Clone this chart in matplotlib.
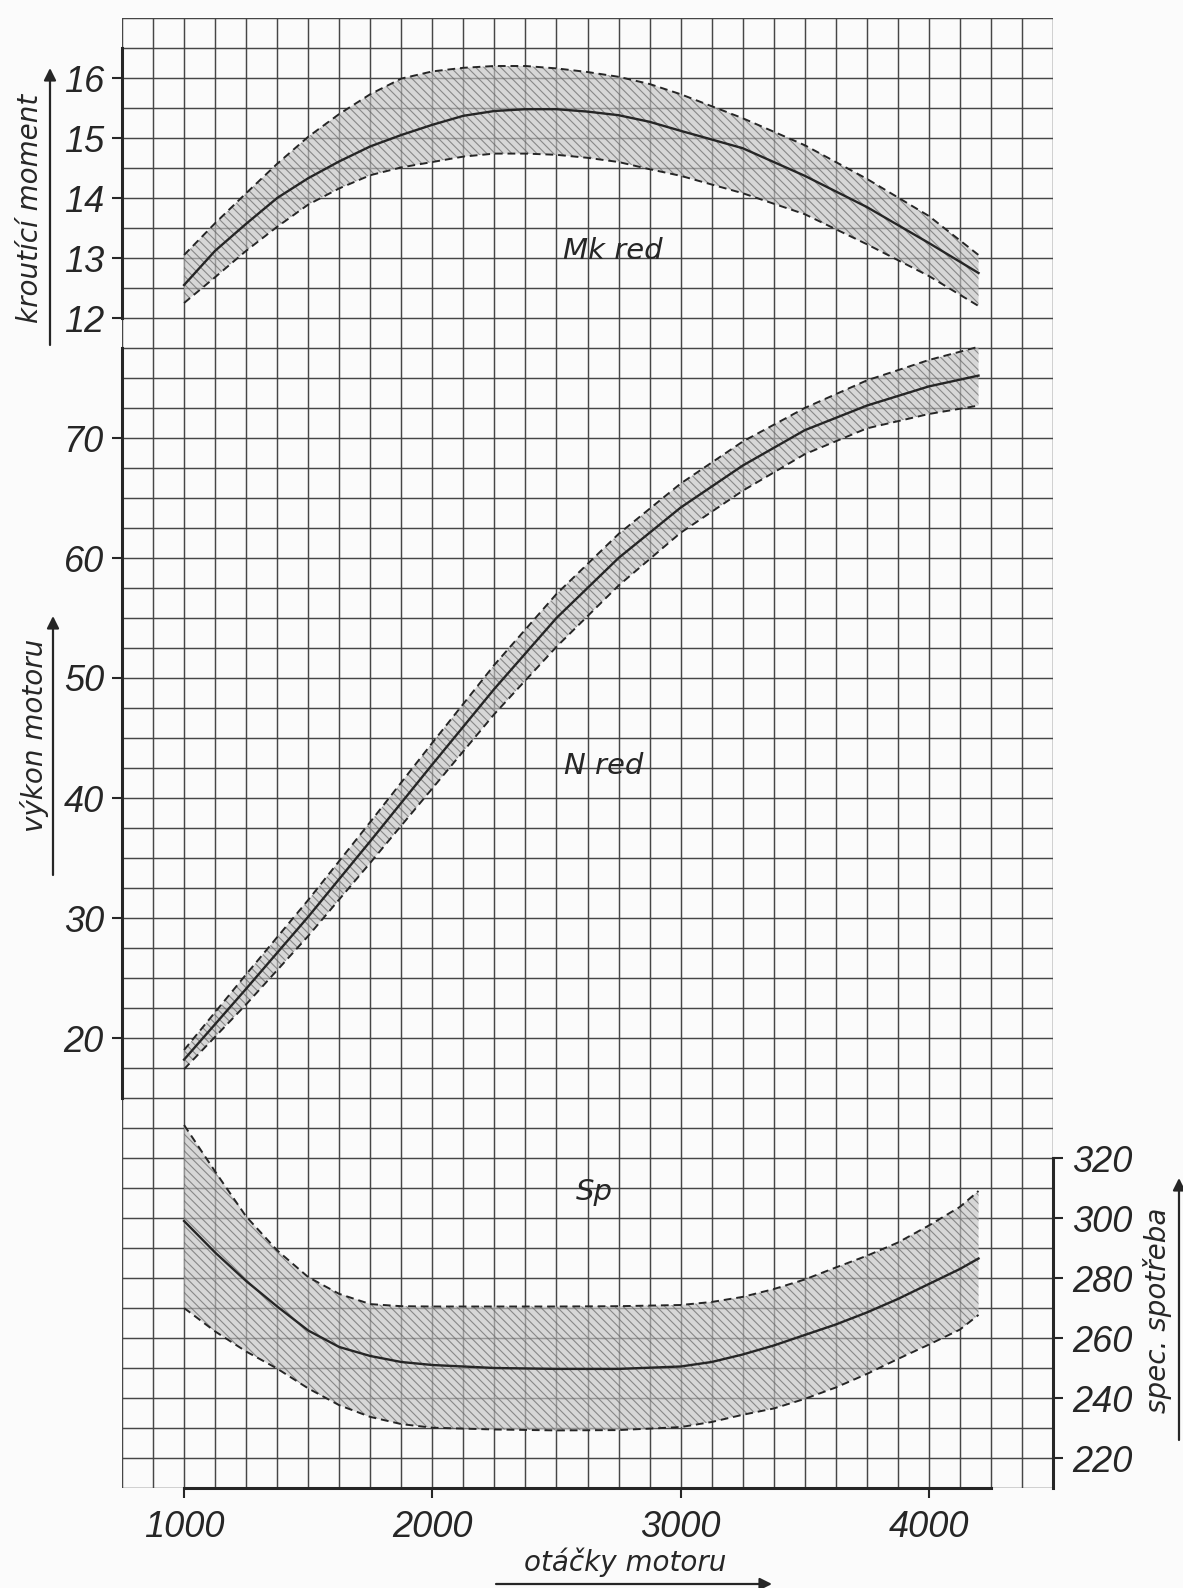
import numpy as np
import matplotlib
matplotlib.use("Agg")
import matplotlib.pyplot as plt

# --- data -------------------------------------------------------------------
rpm_mk = [1000, 1125, 1250, 1375, 1500, 1625, 1750, 1875, 2000, 2125, 2250,
          2375, 2500, 2625, 2750, 2875, 3000, 3250, 3500, 3750, 4000, 4200]
mk_mid = [12.55, 13.12, 13.57, 14.0, 14.33, 14.61, 14.86, 15.05, 15.22, 15.37, 15.45,
          15.48, 15.48, 15.44, 15.38, 15.27, 15.12, 14.83, 14.37, 13.85, 13.25, 12.75]
mk_hi = [13.05, 13.58, 14.08, 14.57, 15.02, 15.4, 15.73, 15.99, 16.11, 16.17, 16.2,
         16.2, 16.16, 16.1, 16.02, 15.9, 15.73, 15.33, 14.88, 14.32, 13.7, 13.05]
mk_lo = [12.25, 12.68, 13.12, 13.52, 13.89, 14.16, 14.38, 14.51, 14.6, 14.69, 14.74,
         14.74, 14.72, 14.67, 14.6, 14.48, 14.37, 14.08, 13.73, 13.23, 12.7, 12.2]

rpm_n = [1000, 1250, 1500, 1750, 2000, 2250, 2500, 2750, 3000, 3250, 3500, 3750, 4000, 4200]
n_mid = [18.2, 24.1, 30.1, 36.4, 42.8, 49.1, 55.0, 60.0, 64.2, 67.7, 70.65, 72.7, 74.3, 75.2]
n_hi = [19.0, 25.3, 31.5, 38.0, 44.6, 51.1, 57.0, 62.0, 66.2, 69.7, 72.5, 74.8, 76.5, 77.6]
n_lo = [17.4, 22.8, 28.5, 34.6, 40.8, 47.0, 52.6, 57.7, 62.1, 65.6, 68.65, 70.8, 72.0, 72.7]

rpm_sp = [1000, 1125, 1250, 1375, 1500, 1625, 1750, 1875, 2000, 2250, 2500, 2750,
          3000, 3125, 3250, 3375, 3500, 3625, 3750, 3875, 4000, 4125, 4200]
sp_mid = [299, 288.5, 279, 270.5, 262.5, 257, 254, 252, 251, 250, 249.7, 249.7,
          250.5, 252, 254.5, 257.5, 261, 264.5, 268.5, 273, 278, 283, 286.5]
sp_hi = [331, 315.5, 300.5, 289.2, 280.3, 274.7, 271.3, 270.6, 270.5, 270.5, 270.5, 270.6,
         271, 272, 273.7, 276.3, 279.5, 283.5, 287.4, 291.8, 297.5, 303.7, 309]
sp_lo = [270, 262.2, 255.5, 249.8, 243.2, 237.6, 233.7, 231.3, 230.1, 229.5, 229.2, 229.3,
         230.3, 232, 234.4, 236.5, 239.7, 243.5, 248, 253, 257.8, 262.8, 267.7]

x_ticks = [1000, 2000, 3000, 4000]
n_ticks = [20, 30, 40, 50, 60, 70]
mk_ticks = [12, 13, 14, 15, 16]
sp_ticks = [220, 240, 260, 280, 300, 320]

# --- style ------------------------------------------------------------------
plt.rcParams['font.family'] = ['DejaVu Sans']
plt.rcParams['font.style'] = 'italic'
plt.rcParams['hatch.linewidth'] = 0.8
INK = '#262626'
GRID = '#464646'
NUMFONT = ['Liberation Sans', 'DejaVu Sans']
NUMSIZE = 26
W, H = 1183, 1588

def fp(x, y):
    return x / W, 1 - y / H

fig = plt.figure(figsize=(W / 100, H / 100), dpi=100, facecolor='#fbfbfb')
rect = [122 / W, 1 - 1488 / H, 931 / W, 1470 / H]

# power axes carries the grid
ax = fig.add_axes(rect, facecolor='#fbfbfb')
ax.set_xlim(750, 4500)
ax.set_ylim(-17.5, 105)
ax.set_xticks(np.arange(750, 4501, 125), minor=True)
ax.set_yticks(np.arange(-17.5, 105.01, 2.5), minor=True)
ax.grid(which='both', color=GRID, lw=1.05)
ax.set_axisbelow(True)
ax.tick_params(which='minor', length=0)
for s in ax.spines.values():
    s.set_visible(False)
ax.spines['left'].set_visible(True)
ax.spines['left'].set_bounds(15, 77.5)
ax.spines['bottom'].set_visible(True)
ax.spines['bottom'].set_bounds(1000, 4250)
for s in ('left', 'bottom'):
    ax.spines[s].set_linewidth(2.2)
    ax.spines[s].set_color(INK)
ax.set_xticks(x_ticks, labels=[str(v) for v in x_ticks], fontfamily=NUMFONT,
              fontsize=NUMSIZE, fontstyle='italic', color=INK)
ax.set_yticks(n_ticks, labels=[str(v) for v in n_ticks], fontfamily=NUMFONT,
              fontsize=NUMSIZE, fontstyle='italic', color=INK)
ax.tick_params(which='major', direction='out', length=7, width=1.5, color=INK, pad=6)
ax.tick_params(axis='x', pad=9)

band = dict(facecolor='#c4c4c4', alpha=0.65, hatch='\\\\\\\\', edgecolor='#5e5e5e', linewidth=0)
dash = dict(color=INK, lw=1.4, ls=(0, (4, 2.5)))
ax.fill_between(rpm_n, n_lo, n_hi, **band)
ax.plot(rpm_n, n_mid, color=INK, lw=1.7)
ax.plot(rpm_n, n_hi, **dash)
ax.plot(rpm_n, n_lo, **dash)
ax.text(2530, 42.7, 'N red', fontsize=21, color=INK, va='center', ha='left')

# torque
ax_t = fig.add_axes(rect, sharex=ax, facecolor='none')
ax_t.set_ylim(-7.5, 17)
for s in ax_t.spines.values():
    s.set_visible(False)
ax_t.spines['left'].set_visible(True)
ax_t.spines['left'].set_bounds(12, 16.5)
ax_t.spines['left'].set_linewidth(2.2)
ax_t.spines['left'].set_color(INK)
ax_t.set_yticks(mk_ticks, labels=[str(v) for v in mk_ticks], fontfamily=NUMFONT,
                fontsize=NUMSIZE, fontstyle='italic', color=INK)
ax_t.tick_params(axis='y', direction='out', length=7, width=1.5, color=INK, pad=6)
ax_t.tick_params(axis='x', which='both', bottom=False, labelbottom=False)
ax_t.fill_between(rpm_mk, mk_lo, mk_hi, **band)
ax_t.plot(rpm_mk, mk_mid, color=INK, lw=1.7)
ax_t.plot(rpm_mk, mk_hi, **dash)
ax_t.plot(rpm_mk, mk_lo, **dash)
ax_t.text(2525, 13.12, 'Mk red', fontsize=21, color=INK, va='center', ha='left')

# specific consumption
ax_s = fig.add_axes(rect, sharex=ax, facecolor='none')
ax_s.set_ylim(210, 700)
for s in ax_s.spines.values():
    s.set_visible(False)
ax_s.spines['right'].set_visible(True)
ax_s.spines['right'].set_bounds(210, 320)
ax_s.spines['right'].set_linewidth(2.2)
ax_s.spines['right'].set_color(INK)
ax_s.yaxis.tick_right()
ax_s.set_yticks(sp_ticks, labels=[str(v) for v in sp_ticks], fontfamily=NUMFONT,
                fontsize=NUMSIZE, fontstyle='italic', color=INK)
ax_s.tick_params(axis='y', direction='out', length=7, width=1.5, color=INK, pad=7)
ax_s.tick_params(axis='x', which='both', bottom=False, labelbottom=False)
ax_s.fill_between(rpm_sp, sp_lo, sp_hi, **band)
ax_s.plot(rpm_sp, sp_mid, color=INK, lw=1.7)
ax_s.plot(rpm_sp, sp_hi, **dash)
ax_s.plot(rpm_sp, sp_lo, **dash)
ax_s.text(2577, 308.8, 'Sp', fontsize=21, color=INK, va='center', ha='left')

# axis titles with underline arrows
arrow = dict(arrowstyle='-|>', lw=1.6, color=INK, mutation_scale=18, shrinkA=0, shrinkB=0)

def label(txt, x, y, rot):
    fig.text(*fp(x, y), txt, rotation=rot, fontsize=20, color=INK, ha='center', va='center')

def under(x0, y0, x1, y1):
    ax.annotate('', xy=fp(x1, y1), xytext=fp(x0, y0), xycoords='figure fraction',
                textcoords='figure fraction', arrowprops=arrow, annotation_clip=False)

label('kroutící moment', 30, 208, 90)
under(50, 345, 50, 68)
label('výkon motoru', 35, 735, 90)
under(53, 875, 53, 616)
label('spec. spotřeba', 1158, 1310, 90)
under(1179, 1440, 1179, 1178)
label('otáčky motoru', 625, 1562, 0)
under(496, 1584, 772, 1584)

fig.savefig('out.png', dpi=100, facecolor=fig.get_facecolor())
